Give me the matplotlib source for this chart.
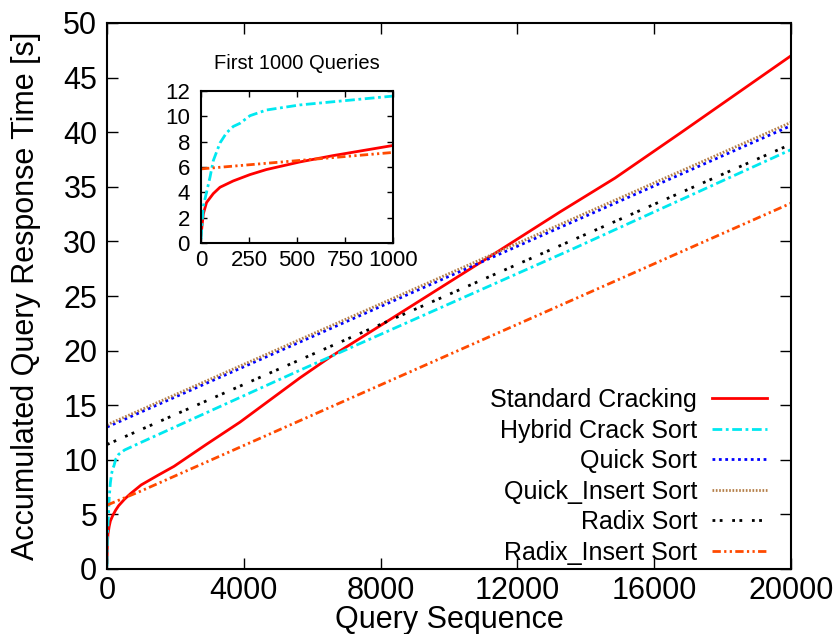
import matplotlib
matplotlib.use("Agg")
import matplotlib.pyplot as plt

plt.rcParams['font.family'] = ['Liberation Sans', 'DejaVu Sans']

# ---- data ----
std_x = [0, 12, 29, 64, 99, 168, 255, 341, 515, 688, 1000, 1500, 1959, 2900,
         3889, 5640, 6520, 8000, 11491, 13246, 14854, 16754, 20000]
std_y = [0.6, 2.3, 3.2, 3.9, 4.4, 4.9, 5.4, 5.8, 6.4, 6.9, 7.7, 8.6, 9.4, 11.4,
         13.45, 17.5, 19.4, 22.3, 29.2, 32.7, 35.8, 39.9, 47.0]

hyb_x = [0, 12, 47, 64, 99, 133, 168, 203, 255, 341, 515, 688, 1000, 5640, 13540, 20000]
hyb_y = [0.3, 2.9, 5.2, 6.5, 7.9, 8.7, 9.2, 9.45, 10.05, 10.5, 10.9, 11.15, 11.6,
         18.2, 29.2, 38.4]

quick_x = [0, 20000]
quick_y = [13.0, 40.6]

qins_x = [0, 20000]
qins_y = [13.2, 40.9]

radix_x = [0, 20000]
radix_y = [11.4, 38.9]

rins_x = [0, 1000, 20000]
rins_y = [5.85, 7.15, 33.5]

labels = ["Standard Cracking", "Hybrid Crack Sort", "Quick Sort",
          "Quick_Insert Sort", "Radix Sort", "Radix_Insert Sort"]

x_ticks = [0, 4000, 8000, 12000, 16000, 20000]
y_ticks = [0, 5, 10, 15, 20, 25, 30, 35, 40, 45, 50]
inset_x_ticks = [0, 250, 500, 750, 1000]
inset_y_ticks = [0, 2, 4, 6, 8, 10, 12]

# ---- styles ----
styles = [
    dict(color="#ff0000", lw=2.0, ls="-"),
    dict(color="#00e8f0", lw=2.0, ls=(0, (3.5, 1.3, 1.0, 1.3))),
    dict(color="#0000ff", lw=2.0, ls=(0, (1.0, 1.3))),
    dict(color="#b5804a", lw=2.0, ls=(0, (0.6, 0.6))),
    dict(color="#000000", lw=2.0, ls=(0, (1.0, 1.6, 1.0, 3.5))),
    dict(color="#ff4a00", lw=2.0, ls=(0, (3.0, 1.2, 0.8, 1.2, 0.8, 1.2))),
]

series = [(std_x, std_y), (hyb_x, hyb_y), (quick_x, quick_y),
          (qins_x, qins_y), (radix_x, radix_y), (rins_x, rins_y)]

fig = plt.figure(figsize=(8.4, 6.34), dpi=100)
ax = fig.add_axes([107/840, 1 - 569/634, 684/840, 546/634])

for (xs, ys), lab, st in zip(series, labels, styles):
    ax.plot(xs, ys, label=lab, **st)

ax.set_xlim(0, 20000)
ax.set_ylim(0, 50)
ax.set_xticks(x_ticks)
ax.set_yticks(y_ticks)
ax.tick_params(direction="in", length=8, width=1, top=True, right=True,
               labelsize=22)
ax.tick_params(axis="x", pad=5)
ax.tick_params(axis="y", pad=7)
for sp in ax.spines.values():
    sp.set_linewidth(1.5)
ax.set_xlabel("Query Sequence", fontsize=22, labelpad=-1)
ax.set_ylabel("Accumulated Query Response Time [s]", fontsize=22, labelpad=16)

leg = ax.legend(loc="lower right", bbox_to_anchor=(0.965, 0.008),
                frameon=False, fontsize=18, markerfirst=False,
                handlelength=2.2, handletextpad=0.6, labelspacing=0.26,
                borderpad=0, borderaxespad=0)

# ---- inset ----
ins = fig.add_axes([201/840, 1 - 243/634, 192/840, 152/634])
for idx in (0, 1, 5):
    xs, ys = series[idx]
    ins.plot(xs, ys, **styles[idx])
ins.set_xlim(0, 1000)
ins.set_ylim(0, 12)
ins.set_xticks(inset_x_ticks)
ins.set_yticks(inset_y_ticks)
ins.tick_params(direction="in", length=4, width=1, top=True, right=True,
                labelsize=16)
ins.tick_params(axis="x", pad=5)
ins.tick_params(axis="y", pad=8)
for sp in ins.spines.values():
    sp.set_linewidth(1.5)
ins.set_title("First 1000 Queries", fontsize=14.5, pad=16)

fig.savefig("out.png", dpi=100)
